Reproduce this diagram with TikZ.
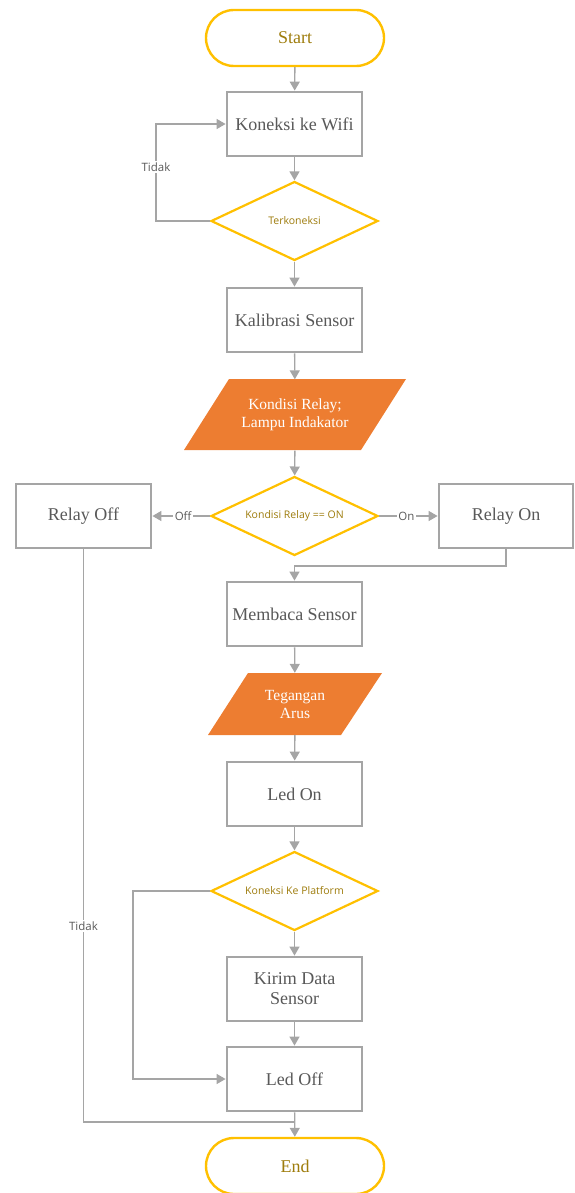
\documentclass[tikz,border=0pt]{standalone}
\usepackage{fontspec}
\setmainfont{Liberation Serif}
\newfontfamily\lblfont{Open Sans}
\usetikzlibrary{shapes.geometric,arrows.meta}
\definecolor{boxgray}{HTML}{A5A5A5}
\definecolor{txtgray}{HTML}{595959}
\definecolor{ylw}{HTML}{FFC000}
\definecolor{gold}{HTML}{9E7C0C}
\definecolor{orng}{HTML}{ED7D31}
\tikzset{
  procbox/.style={draw=boxgray, line width=2.8pt, fill=white, minimum width=135pt, minimum height=64pt, inner sep=0pt, align=center, text=txtgray, font=\fontsize{18}{20}\selectfont},
  term/.style={draw=ylw, line width=2.4pt, rounded corners=28pt, minimum width=178pt, minimum height=56pt, inner sep=0pt, text=gold, font=\fontsize{18}{20}\selectfont},
  decide/.style={diamond, draw=ylw, line width=2.2pt, fill=white, minimum width=167pt, minimum height=79pt, inner sep=0pt, aspect=2.1, text=gold, font=\lblfont\fontsize{10.5}{12}\selectfont},
  iobox/.style={inner sep=0pt, minimum height=71pt, align=center, text=white, font=\fontsize{15.5}{18}\selectfont},
  conn/.style={draw=boxgray, line width=1.4pt, -{Triangle[width=10pt,length=9pt]}},
  plain/.style={draw=boxgray, line width=1.4pt},
  lbl/.style={fill=white, inner sep=1.5pt, text=txtgray, font=\lblfont\fontsize{11.5}{13}\selectfont}
}
\begin{document}
\begin{tikzpicture}[x=1pt,y=-1pt]
\useasboundingbox (0,0) rectangle (574,1193);
% nodes
\node[term] (start) at (295,38) {Start};
\node[procbox] (wifi) at (294.5,124) {Koneksi ke Wifi};
\node[decide] (terk) at (294.5,221) {Terkoneksi};
\node[procbox] (kal) at (294.5,320) {Kalibrasi Sensor};
\fill[orng] (229,379) -- (406,379) -- (361,450) -- (184,450) -- cycle;
\node[iobox, minimum height=71pt] (kr) at (295,415) {Kondisi Relay;\\Lampu Indakator};
\node[decide] (krd) at (294.5,516) {Kondisi Relay == ON};
\node[procbox] (roff) at (83.5,516) {Relay Off};
\node[procbox, minimum width=134pt] (ron) at (506,516) {Relay On};
\node[procbox] (baca) at (294.5,614) {Membaca Sensor};
\fill[orng] (248,673) -- (382,673) -- (341,735) -- (208,735) -- cycle;
\node[iobox, minimum height=62pt] (teg) at (295,704) {Tegangan\\Arus};
\node[procbox] (ledon) at (294.5,794) {Led On};
\node[decide] (plat) at (294.5,891) {Koneksi Ke Platform};
\node[procbox] (kirim) at (294.5,989) {Kirim Data\\Sensor};
\node[procbox] (ledoff) at (294.5,1079) {Led Off};
\node[term] (end) at (295,1166) {End};
% connectors
\draw[conn] (start) -- (wifi);
\draw[conn] (wifi) -- (terk);
\coordinate (c1) at (156,221);
\draw[conn] (terk.west) -- (c1) |- (wifi.west);
\node[lbl] (t1) at (156,167) {Tidak};
\draw[conn] (terk) -- (kal);
\draw[conn] (kal) -- (kr);
\draw[conn] (kr) -- (krd);
\draw[conn] (krd.west) -- (roff.east) node[lbl, midway, xshift=2pt] {Off};
\draw[conn] (krd.east) -- (ron.west) node[lbl, midway, xshift=-2pt] {On};
\coordinate (j1) at (294.5,566);
\draw[conn] (ron.south) |- (j1) -- (baca.north);
\draw[conn] (baca) -- (teg);
\draw[conn] (teg) -- (ledon);
\draw[conn] (ledon) -- (plat);
\draw[conn] (plat) -- (kirim);
\draw[conn] (kirim) -- (ledoff);
\draw[conn] (plat.west) -- ++(-77,0) |- (ledoff.west);
\draw[conn] (ledoff) -- (end);
\coordinate (j2) at (294.5,1122);
\draw[plain] (roff.south) |- (j2);
\node[lbl] (t2) at (83.5,926) {Tidak};
\end{tikzpicture}
\end{document}
